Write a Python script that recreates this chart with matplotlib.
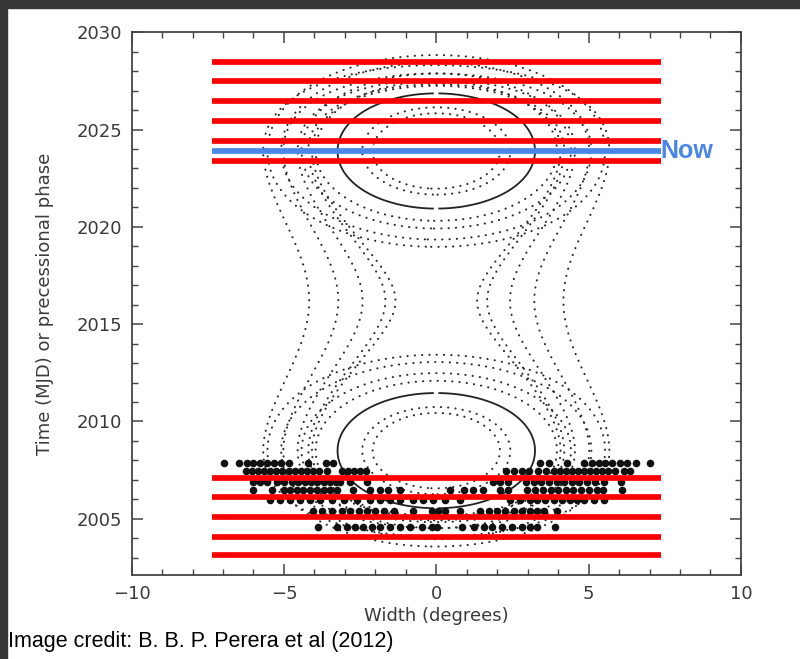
import numpy as np
import matplotlib.pyplot as plt
from matplotlib.patches import Rectangle
from matplotlib.ticker import MultipleLocator

# --- beam model geometry (precession) ---
t_mid = 2016.2          # epoch of minimum line-of-sight offset
u_zero = 7.7            # years from t_mid to beam-centre crossings
ell_slope, ell_curv = 1.05, 0.015
hg_curv = 0.065

ellipse_radii = [2.09, 2.43, 3.96, 4.42, 5.09, 5.54]
best_radius = 3.24
hourglass_radii = [4.08, 4.20, 4.55, 5.02, 5.68]

# --- observed emission longitudes per epoch (deg) ---
epoch_a, left_a = 2007.89, [-6.96, -6.49, -6.21, -6.0, -5.78, -5.56, -5.32, -5.1, -4.82, -4.2, -3.63, -3.38]
right_a = [3.42, 3.69, 4.29, 4.86, 5.11, 5.33, 5.55, 5.77, 6.02, 6.26, 6.57, 7.0]
epoch_b, left_b = 2007.45, [-6.25, -6.05, -5.85, -5.65, -5.45, -5.25, -5.05, -4.85, -4.65, -4.45,
                             -4.25, -4.05, -3.85, -3.6, -3.1, -2.9, -2.7, -2.5, -2.3]
right_b = [2.3, 2.55, 2.8, 3.05, 3.35, 3.6, 3.85, 4.05, 4.25, 4.45, 4.65, 4.85, 5.05, 5.25,
           5.45, 5.65, 5.85, 6.15, 6.35]
epoch_c, left_c = 2006.9, [-6.0, -5.8, -5.55, -5.23, -5.0, -4.75, -4.53, -4.3, -4.1, -3.9, -3.7,
                            -3.5, -3.3, -3.15, -2.82, -2.28]
right_c = [1.85, 2.1, 2.35, 2.95, 3.2, 3.45, 3.7, 3.95, 4.2, 4.45, 4.7, 4.95, 5.2, 5.5, 6.05]
epoch_d, left_d = 2006.47, [-6.0, -5.4, -5.01, -4.79, -4.57, -4.36, -4.14, -3.92, -3.7, -3.48,
                             -3.26, -2.72, -2.17, -1.84, -1.57, -1.18]
right_d = [0.46, 0.9, 1.2, 1.54, 2.1, 2.36, 2.99, 3.25, 3.5, 3.75, 4.0, 4.25, 4.5, 4.75, 5.0,
           5.29, 5.48, 6.1]
epoch_e, left_e = 2005.96, [-5.45, -5.12, -4.79, -4.47, -4.14, -3.81, -3.43, -3.04, -2.6, -2.17,
                             -1.84, -1.51, -1.18, -0.76, -0.43, -0.1]
right_e = [0.3, 0.79, 2.43, 2.76, 3.09, 3.31, 3.58, 3.85, 4.13, 4.4, 4.62, 4.84, 5.17, 5.49]
epoch_f, left_f = 2005.39, [-4.03, -3.75, -3.43, -3.1, -2.82, -2.55, -2.28, -2.0, -1.73, -1.4,
                             -0.75, -0.14]
right_f = [0.05, 0.3, 0.79, 1.44, 1.72, 1.99, 2.27, 2.54, 2.81, 3.09, 3.31, 3.52, 3.96]
epoch_g, left_g = 2004.58, [-3.87, -3.26, -2.94, -2.66, -2.39, -2.11, -1.84, -1.51, -1.18, -0.85,
                             -0.47, -0.14]
right_g = [0.02, 0.84, 1.23, 1.55, 1.83, 2.16, 2.49, 2.81, 3.09, 3.31, 3.91]

rows = [(epoch_a, left_a + right_a), (epoch_b, left_b + right_b), (epoch_c, left_c + right_c),
        (epoch_d, left_d + right_d), (epoch_e, left_e + right_e), (epoch_f, left_f + right_f),
        (epoch_g, left_g + right_g)]

# --- highlighted epochs ---
late_epochs = [2028.47, 2027.5, 2026.49, 2025.44, 2024.41, 2023.38]
early_epochs = [2007.11, 2006.12, 2005.11, 2004.06, 2003.14]
now_epoch = 2023.9
band_half = 7.36

fig = plt.figure(figsize=(8, 6.59), dpi=100)
ax = fig.add_axes([0.1645, 0.1275, 0.7617, 0.8235])

# model width curves
x = np.linspace(-8, 8, 1601)
t = np.linspace(2001.5, 2030.5, 1451)
X, T = np.meshgrid(x, t)
d = np.abs(T - t_mid) - u_zero
beta_ell = ell_slope * d + ell_curv * d * np.abs(d)
beta_hg = hg_curv * ((T - t_mid) ** 2 - u_zero ** 2)
F_ell = X ** 2 + beta_ell ** 2
F_hg = X ** 2 + beta_hg ** 2

dot_style = (0, (0.1, 3.4))
for F, radii in [(F_ell, ellipse_radii), (F_hg, hourglass_radii)]:
    cs = ax.contour(X, T, F, levels=np.square(radii), colors='#2a2a2a', linewidths=1.5, zorder=1)
    cs.set_linestyle(dot_style)
    cs.set_capstyle('round')

F_best = np.ma.masked_where(np.abs(X) < 0.07, F_ell)
ax.contour(X, T, F_best, levels=[best_radius ** 2], colors='#222222', linewidths=1.3, zorder=2)

for epoch, widths in rows:
    ax.scatter(widths, [epoch] * len(widths), s=30, color='#111111', linewidths=0, zorder=3)

ax.hlines(late_epochs + early_epochs, -band_half, band_half, colors='#ff0000', linewidth=4.1, zorder=4)
ax.hlines([now_epoch], -band_half, band_half, colors='#4a86e8', linewidth=4.1, zorder=5)
ax.text(band_half, now_epoch, 'Now', color='#4a86e8', fontsize=18, fontweight='bold',
        family=['Liberation Sans', 'DejaVu Sans'], ha='left', va='center', zorder=6)

ax.set_xlim(-10, 10)
ax.set_ylim(2002.11, 2030)
ax.xaxis.set_major_locator(MultipleLocator(5))
ax.xaxis.set_minor_locator(MultipleLocator(1))
ax.yaxis.set_major_locator(MultipleLocator(5))
ax.yaxis.set_minor_locator(MultipleLocator(1))
ax.tick_params(which='both', direction='in', top=True, right=True, colors='#444444',
               labelcolor='#3a3a3a', labelsize=13, pad=7)
ax.tick_params(which='major', length=8, width=1.1)
ax.tick_params(which='minor', length=4.5, width=1.0)
for sp in ax.spines.values():
    sp.set_color('#444444')
    sp.set_linewidth(1.3)

ax.set_xlabel('Width (degrees)', fontsize=13, color='#3a3a3a', labelpad=3)
ax.set_ylabel('Time (MJD) or precessional phase', fontsize=13, color='#3a3a3a', labelpad=16)

fig.text(0.01, 0.018, 'Image credit: B. B. P. Perera et al (2012)', fontsize=15.5,
         family=['Liberation Sans Narrow', 'Liberation Sans'], color='black')

# dark frame on the top and left edges
fig.add_artist(Rectangle((0, 1 - 8 / 659), 1, 8 / 659, transform=fig.transFigure,
                         color='#363636', zorder=10))
fig.add_artist(Rectangle((0, 0), 7 / 800, 1, transform=fig.transFigure,
                         color='#363636', zorder=10))

fig.savefig('out.png', dpi=100)
